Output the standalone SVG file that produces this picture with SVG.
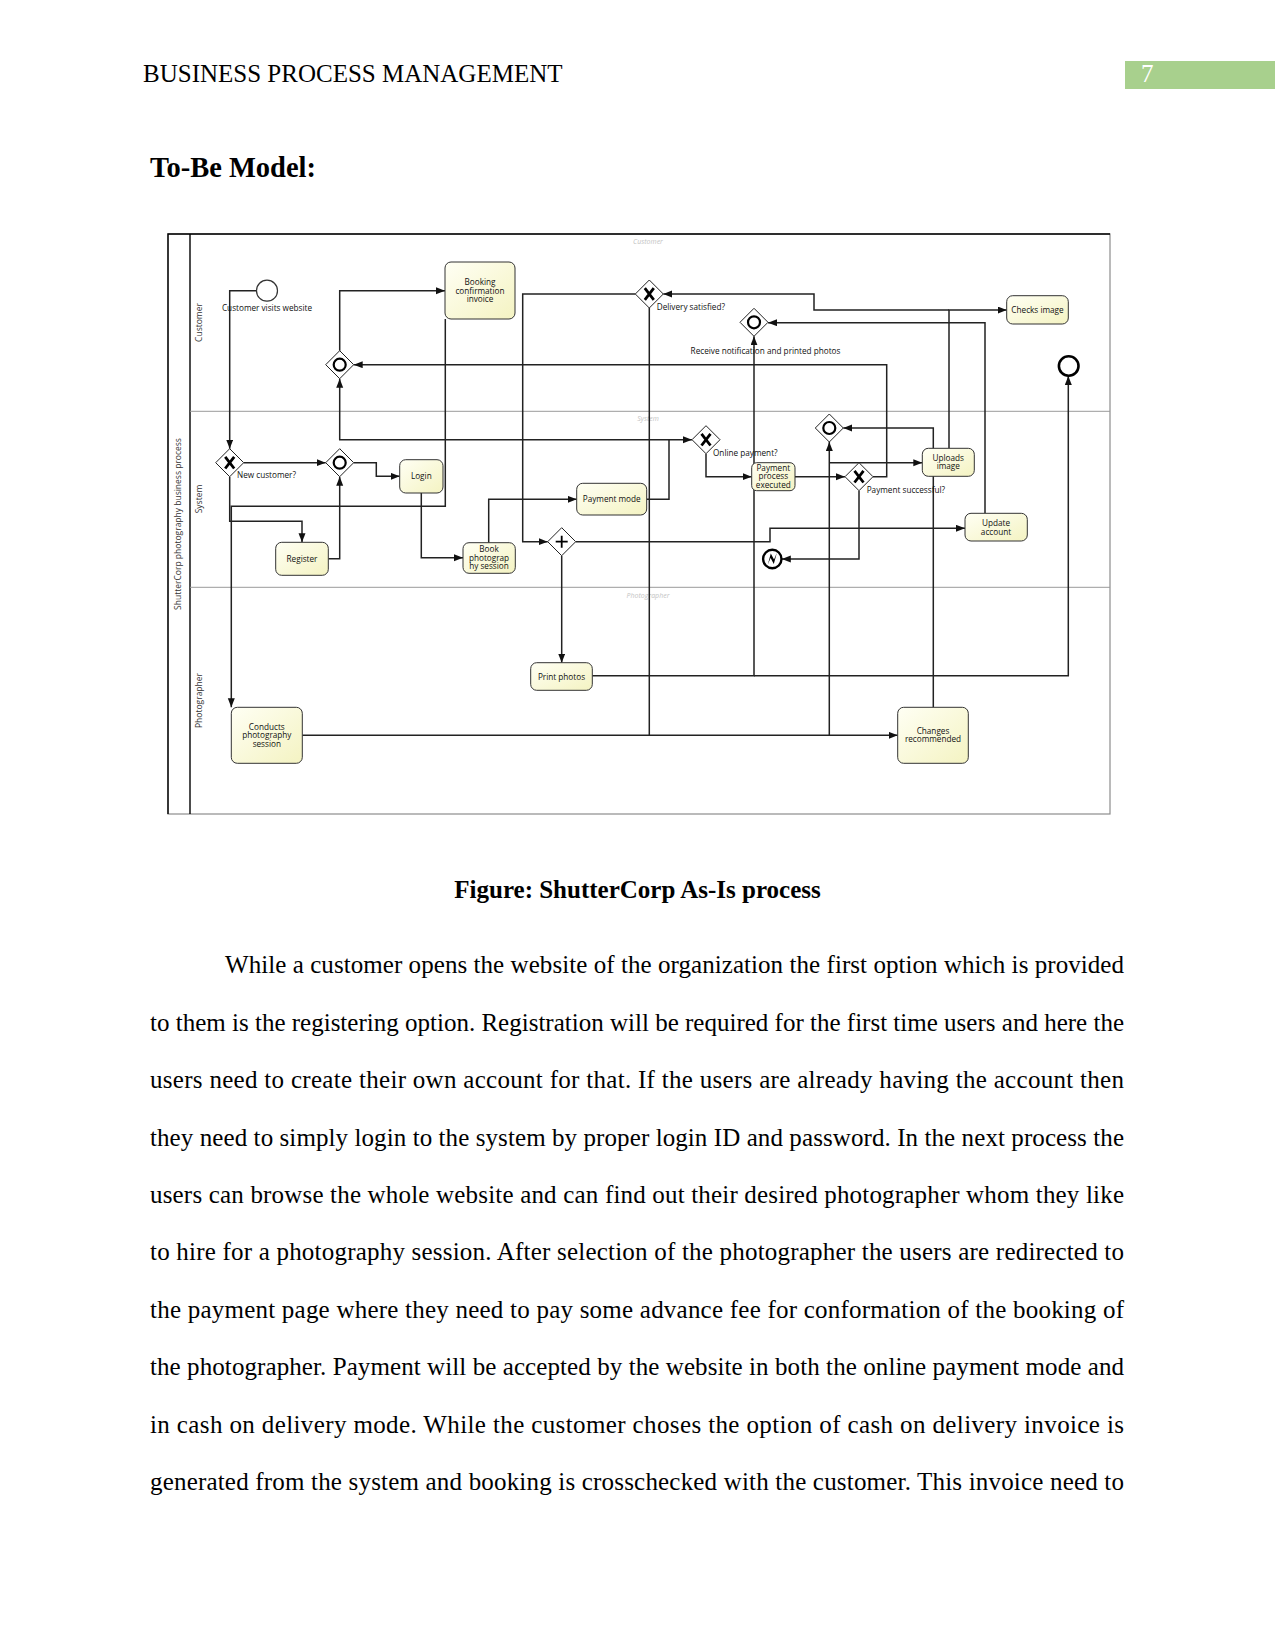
<svg xmlns="http://www.w3.org/2000/svg" width="1275" height="1651" viewBox="0 0 1275 1651">
<defs>
<linearGradient id="taskFill" x1="0" y1="0" x2="1" y2="1">
<stop offset="0" stop-color="#fffff4"/>
<stop offset="1" stop-color="#f4f3c2"/>
</linearGradient>
<marker id="arr" markerUnits="userSpaceOnUse" markerWidth="10" markerHeight="8" refX="9" refY="3.5" orient="auto">
<path d="M0,0 L9,3.5 L0,7 z" fill="#111"/>
</marker>
<style>
.serif{font-family:"Liberation Serif","Times New Roman",serif;fill:#000}
.page{font-size:25px}
.dg{font-family:"Open Sans","Noto Sans","DejaVu Sans",sans-serif;font-size:8.2px;fill:#111}
.tt{text-anchor:middle}
.lane{font-size:8.5px;fill:#333}
.faint{font-family:"Open Sans","Noto Sans",sans-serif;font-size:7px;font-style:italic;fill:#c4c4c4;text-anchor:middle}
.task{fill:url(#taskFill);stroke:#333;stroke-width:1}
.gw{fill:#fff;stroke:#222;stroke-width:1}
.xm{fill:none;stroke:#000;stroke-width:2.8}
.pm{fill:none;stroke:#000;stroke-width:1.8}
.om{fill:none;stroke:#000;stroke-width:2.2}
.conn path{fill:none;stroke:#222;stroke-width:1.5}
.arrow{marker-end:url(#arr)}
</style>
</defs>
<rect width="1275" height="1651" fill="#fff"/>

<!-- page header -->
<text class="serif page" x="143" y="82.3">BUSINESS PROCESS MANAGEMENT</text>
<rect x="1125" y="61" width="150" height="28" fill="#a8d08d"/>
<text x="1141" y="82.3" font-family="Liberation Serif,serif" font-size="25" fill="#fff">7</text>
<text class="serif" x="150" y="176.7" font-size="28.5" font-weight="bold">To-Be Model:</text>

<!-- pool and lanes -->
<g id="pool">
<rect x="168" y="234" width="942" height="580" fill="#fff" stroke="#8c8c8c" stroke-width="1.2"/>
<path d="M168,814 V234 H1110" fill="none" stroke="#000" stroke-width="1.4"/>
<line x1="190" y1="234" x2="190" y2="814" stroke="#000" stroke-width="1.4"/>
<line x1="190" y1="411.3" x2="1110" y2="411.3" stroke="#9a9a9a" stroke-width="1"/>
<line x1="190" y1="587.3" x2="1110" y2="587.3" stroke="#9a9a9a" stroke-width="1"/>
<text class="dg lane" transform="translate(178,524) rotate(-90)" text-anchor="middle" y="3">ShutterCorp photography business process</text>
<text class="dg lane" transform="translate(199,322.5) rotate(-90)" text-anchor="middle" y="3">Customer</text>
<text class="dg lane" transform="translate(199,499) rotate(-90)" text-anchor="middle" y="3">System</text>
<text class="dg lane" transform="translate(199,700.5) rotate(-90)" text-anchor="middle" y="3">Photographer</text>
<text class="faint" x="648" y="243.5">Customer</text>
<text class="faint" x="648" y="420.5">System</text>
<text class="faint" x="648" y="597.5">Photographer</text>
</g>

<!-- connectors -->
<g id="connectors" class="conn">
<path class="arrow" d="M256.3,290.7 H229.7 V448.7"/>
<path class="arrow" d="M243.7,462.7 H325.7"/>
<path class="arrow" d="M353.7,462.7 H376.3 V476.3 H399.7"/>
<path class="arrow" d="M229.7,476.7 V521.3 H302 V542.3"/>
<path class="arrow" d="M328.3,558.7 H339.7 V476.7"/>
<path class="arrow" d="M445.3,319 V506.3 H231.3 V707.3"/>
<path class="arrow" d="M421.3,493 V557.7 H463"/>
<path class="arrow" d="M488.7,542.7 V499.3 H576.7"/>
<path class="arrow" d="M646.7,499.3 H669 V439.7 H692"/>
<path class="arrow" d="M669,439.7 H339.7 V378.7"/>
<path class="arrow" d="M706,453.7 V476.7 H751.7"/>
<path class="arrow" d="M795,476.7 H845"/>
<path class="arrow" d="M873,476.7 H886.7 V364.7 H353.7"/>
<path class="arrow" d="M859,490.7 V559 H781.8"/>
<path class="arrow" d="M302.3,735.3 H897.7"/>
<path class="arrow" d="M829.3,735.3 V442"/>
<path class="arrow" d="M829.3,462.7 H922.3"/>
<path class="arrow" d="M933.3,707.3 V428 H843.3"/>
<path class="arrow" d="M949,448.3 V310 H1006.7"/>
<path class="arrow" d="M949,310 H814 V294 H663.3"/>
<path class="arrow" d="M635.3,294 H522.7 V541.7 H547.7"/>
<path d="M649.3,308 V735.3"/>
<path class="arrow" d="M561.7,555.7 V662.7"/>
<path class="arrow" d="M575.7,541.7 H770 V528.3 H965"/>
<path class="arrow" d="M592.3,675.7 H754 V336.3"/>
<path class="arrow" d="M754,675.7 H1068.3 V376"/>
<path class="arrow" d="M985,513.3 V322.7 H768"/>
<path class="arrow" d="M339.7,350.7 V290.7 H445"/>
</g>

<!-- events -->
<g id="start">
<circle cx="267" cy="290.7" r="10.5" fill="#fff" stroke="#333" stroke-width="1.2"/>
<text class="dg tt" x="267" y="310.5">Customer visits website</text>
</g>
<g id="end">
<circle cx="1068.7" cy="366" r="9.8" fill="#fff" stroke="#000" stroke-width="2.6"/>
</g>
<g id="error-end">
<circle cx="772.3" cy="559" r="9.2" fill="#fff" stroke="#000" stroke-width="2.4"/>
<path d="M767.8,564.5 L770.8,553.5 L774,559.5 L776.8,553 L773.8,564 L770.6,558 Z" fill="#000"/>
</g>

<!-- gateways -->
<g id="gw-new" transform="translate(229.7,462.7)">
<polygon class="gw" points="0,-14 14,0 0,14 -14,0"/>
<path class="xm" d="M-4.5,-5.8 L4.5,5.8 M4.5,-5.8 L-4.5,5.8"/>
</g>
<text class="dg" x="237" y="478">New customer?</text>
<g id="gw-inc-system" transform="translate(339.7,462.7)">
<polygon class="gw" points="0,-14 14,0 0,14 -14,0"/>
<circle class="om" r="6"/>
</g>
<g id="gw-inc-customer" transform="translate(339.7,364.7)">
<polygon class="gw" points="0,-14 14,0 0,14 -14,0"/>
<circle class="om" r="6"/>
</g>
<g id="gw-delivery" transform="translate(649.3,294)">
<polygon class="gw" points="0,-14 14,0 0,14 -14,0"/>
<path class="xm" d="M-4.5,-5.8 L4.5,5.8 M4.5,-5.8 L-4.5,5.8"/>
</g>
<text class="dg" x="656.7" y="310">Delivery satisfied?</text>
<g id="gw-receive" transform="translate(754,322.3)">
<polygon class="gw" points="0,-14 14,0 0,14 -14,0"/>
<circle class="om" r="6"/>
</g>
<text class="dg tt" x="765.5" y="354">Receive notification and printed photos</text>
<g id="gw-online" transform="translate(706,439.7)">
<polygon class="gw" points="0,-14 14,0 0,14 -14,0"/>
<path class="xm" d="M-4.5,-5.8 L4.5,5.8 M4.5,-5.8 L-4.5,5.8"/>
</g>
<text class="dg" x="713" y="456">Online payment?</text>
<g id="gw-paysucc" transform="translate(859,476.7)">
<polygon class="gw" points="0,-14 14,0 0,14 -14,0"/>
<path class="xm" d="M-4.5,-5.8 L4.5,5.8 M4.5,-5.8 L-4.5,5.8"/>
</g>
<text class="dg" x="866.7" y="493">Payment successful?</text>
<g id="gw-inc-upload" transform="translate(829.3,428)">
<polygon class="gw" points="0,-14 14,0 0,14 -14,0"/>
<circle class="om" r="6"/>
</g>
<g id="gw-parallel" transform="translate(561.7,541.7)">
<polygon class="gw" points="0,-14 14,0 0,14 -14,0"/>
<path class="pm" d="M-6,0 H6 M0,-6 V6"/>
</g>

<!-- tasks -->
<g id="t-booking">
<rect class="task" x="445" y="262" width="70" height="57" rx="6"/>
<text class="dg tt" x="480" y="285.3">Booking</text>
<text class="dg tt" x="480" y="293.7">confirmation</text>
<text class="dg tt" x="480" y="302">invoice</text>
</g>
<g id="t-login">
<rect class="task" x="399.7" y="459.7" width="43.3" height="33.3" rx="6"/>
<text class="dg tt" x="421.3" y="479.4">Login</text>
</g>
<g id="t-register">
<rect class="task" x="275.7" y="542.3" width="52.6" height="33" rx="6"/>
<text class="dg tt" x="302" y="561.8">Register</text>
</g>
<g id="t-book">
<rect class="task" x="463" y="542.7" width="52.3" height="30.6" rx="6"/>
<text class="dg tt" x="489" y="552">Book</text>
<text class="dg tt" x="489" y="560.7">photograp</text>
<text class="dg tt" x="489" y="569">hy session</text>
</g>
<g id="t-paymode">
<rect class="task" x="576.7" y="483.3" width="70" height="31.7" rx="6"/>
<text class="dg tt" x="611.7" y="502.2">Payment mode</text>
</g>
<g id="t-payexec">
<rect class="task" x="751.7" y="462.7" width="43.3" height="28" rx="5"/>
<text class="dg tt" x="773.3" y="471.3">Payment</text>
<text class="dg tt" x="773.3" y="479.3">process</text>
<text class="dg tt" x="773.3" y="487.7">executed</text>
</g>
<g id="t-uploads">
<rect class="task" x="922.3" y="448.3" width="52" height="28" rx="6"/>
<text class="dg tt" x="948.3" y="461">Uploads</text>
<text class="dg tt" x="948.3" y="469.3">image</text>
</g>
<g id="t-checks">
<rect class="task" x="1006.7" y="295.7" width="61.6" height="28.3" rx="6"/>
<text class="dg tt" x="1037.5" y="313">Checks image</text>
</g>
<g id="t-update">
<rect class="task" x="965" y="513.3" width="62.3" height="27.7" rx="6"/>
<text class="dg tt" x="996" y="525.7">Update</text>
<text class="dg tt" x="996" y="534.5">account</text>
</g>
<g id="t-print">
<rect class="task" x="530.7" y="662.7" width="61.6" height="27.6" rx="6"/>
<text class="dg tt" x="561.5" y="679.5">Print photos</text>
</g>
<g id="t-conducts">
<rect class="task" x="231.3" y="707.3" width="71" height="56" rx="6"/>
<text class="dg tt" x="266.8" y="729.7">Conducts</text>
<text class="dg tt" x="266.8" y="738.3">photography</text>
<text class="dg tt" x="266.8" y="746.7">session</text>
</g>
<g id="t-changes">
<rect class="task" x="897.7" y="707.3" width="70.6" height="56" rx="6"/>
<text class="dg tt" x="933" y="734">Changes</text>
<text class="dg tt" x="933" y="742.3">recommended</text>
</g>

<!-- caption and body -->
<text class="serif page" x="637.5" y="898" text-anchor="middle" font-weight="bold">Figure: ShutterCorp As-Is process</text>
<g class="serif page">
<text x="225" y="973.3" textLength="899" lengthAdjust="spacing">While a customer opens the website of the organization the first option which is provided</text>
<text x="150" y="1030.7" textLength="974" lengthAdjust="spacing">to them is the registering option. Registration will be required for the first time users and here the</text>
<text x="150" y="1088.1" textLength="974" lengthAdjust="spacing">users need to create their own account for that. If the users are already having the account then</text>
<text x="150" y="1145.5" textLength="974" lengthAdjust="spacing">they need to simply login to the system by proper login ID and password. In the next process the</text>
<text x="150" y="1202.9" textLength="974" lengthAdjust="spacing">users can browse the whole website and can find out their desired photographer whom they like</text>
<text x="150" y="1260.3" textLength="974" lengthAdjust="spacing">to hire for a photography session. After selection of the photographer the users are redirected to</text>
<text x="150" y="1317.7" textLength="974" lengthAdjust="spacing">the payment page where they need to pay some advance fee for conformation of the booking of</text>
<text x="150" y="1375.1" textLength="974" lengthAdjust="spacing">the photographer. Payment will be accepted by the website in both the online payment mode and</text>
<text x="150" y="1432.5" textLength="974" lengthAdjust="spacing">in cash on delivery mode. While the customer choses the option of cash on delivery invoice is</text>
<text x="150" y="1489.9" textLength="974" lengthAdjust="spacing">generated from the system and booking is crosschecked with the customer. This invoice need to</text>
</g>
</svg>
